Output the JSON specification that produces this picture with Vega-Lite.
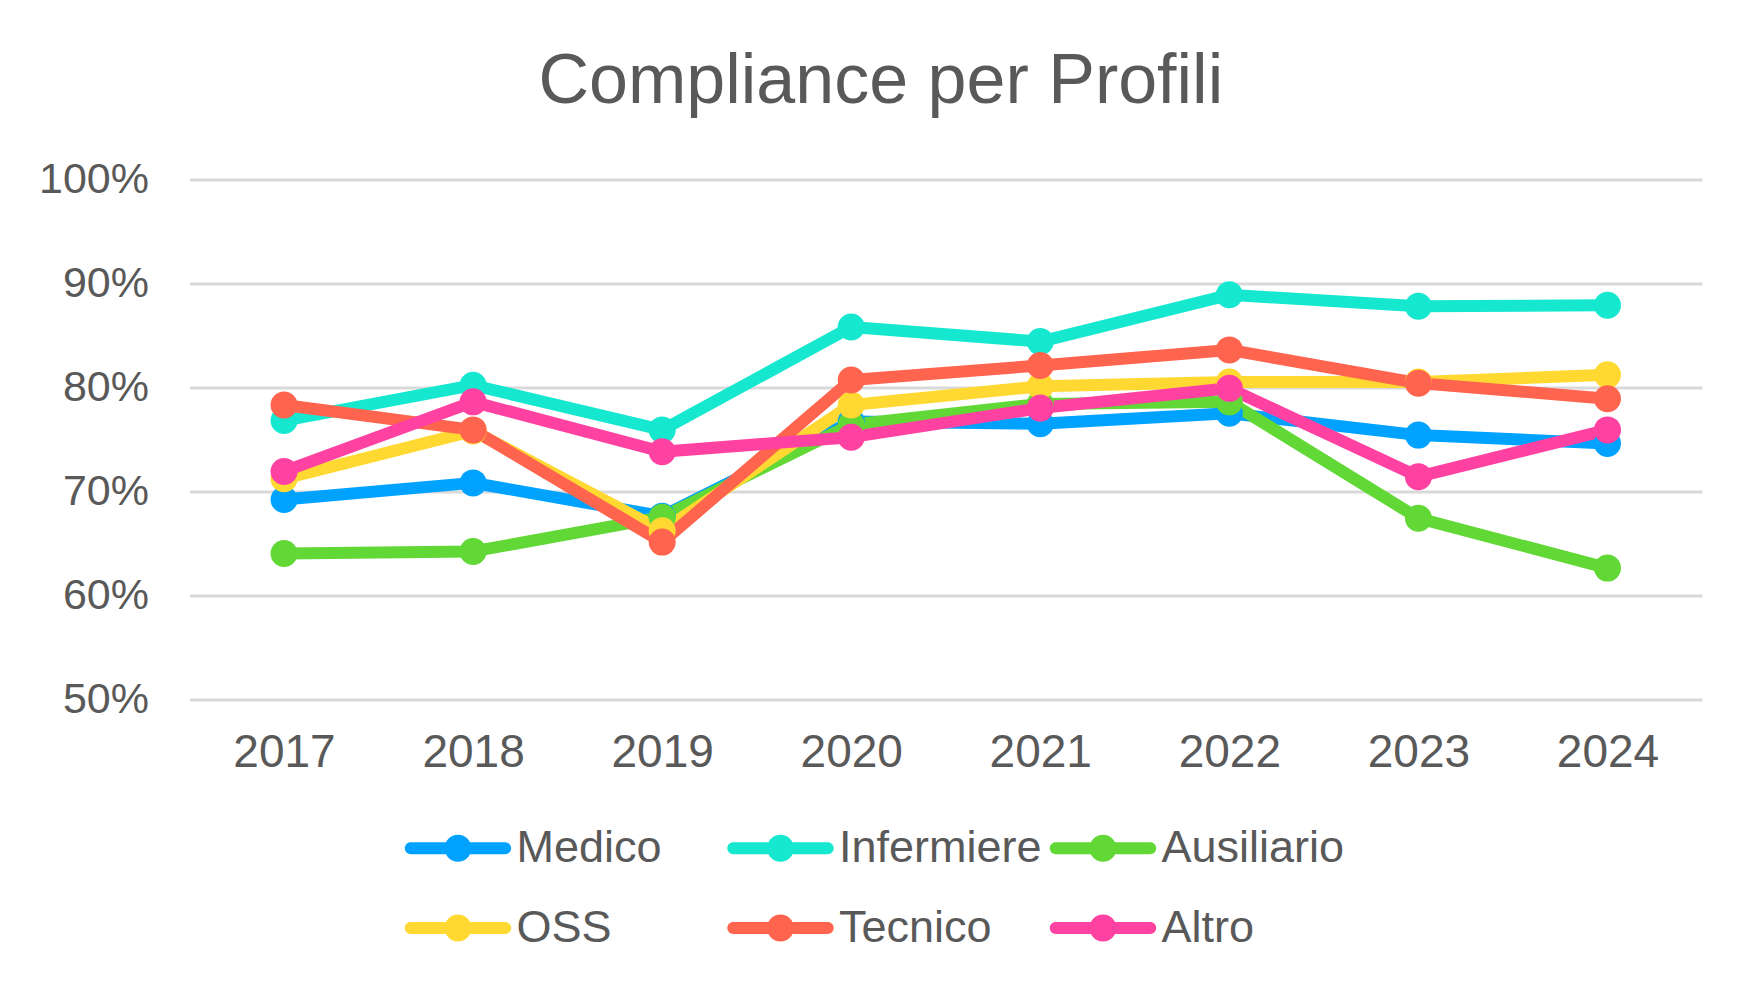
{
  "$schema": "https://vega.github.io/schema/vega-lite/v6.json",
  "width": 1512.5,
  "height": 519.5,
  "autosize": {"type": "none"},
  "padding": {"left": 189.5, "top": 179.5, "right": 46, "bottom": 264},
  "background": "white",
  "config": {"view": {"stroke": null}},
  "title": {
    "text": "Compliance per Profili",
    "anchor": "start",
    "frame": "group",
    "dx": 349,
    "fontSize": 70,
    "font": "Liberation Sans",
    "fontWeight": "normal",
    "color": "#595959",
    "baseline": "alphabetic",
    "offset": -14
  },
  "data": {
    "values": [
      {"profilo": "Medico", "anno": "2017", "valore": 0.692},
      {"profilo": "Medico", "anno": "2018", "valore": 0.708},
      {"profilo": "Medico", "anno": "2019", "valore": 0.676},
      {"profilo": "Medico", "anno": "2020", "valore": 0.767},
      {"profilo": "Medico", "anno": "2021", "valore": 0.765},
      {"profilo": "Medico", "anno": "2022", "valore": 0.775},
      {"profilo": "Medico", "anno": "2023", "valore": 0.754},
      {"profilo": "Medico", "anno": "2024", "valore": 0.746},
      {"profilo": "Infermiere", "anno": "2017", "valore": 0.768},
      {"profilo": "Infermiere", "anno": "2018", "valore": 0.802},
      {"profilo": "Infermiere", "anno": "2019", "valore": 0.759},
      {"profilo": "Infermiere", "anno": "2020", "valore": 0.858},
      {"profilo": "Infermiere", "anno": "2021", "valore": 0.844},
      {"profilo": "Infermiere", "anno": "2022", "valore": 0.889},
      {"profilo": "Infermiere", "anno": "2023", "valore": 0.878},
      {"profilo": "Infermiere", "anno": "2024", "valore": 0.879},
      {"profilo": "Ausiliario", "anno": "2017", "valore": 0.640},
      {"profilo": "Ausiliario", "anno": "2018", "valore": 0.642},
      {"profilo": "Ausiliario", "anno": "2019", "valore": 0.675},
      {"profilo": "Ausiliario", "anno": "2020", "valore": 0.764},
      {"profilo": "Ausiliario", "anno": "2021", "valore": 0.784},
      {"profilo": "Ausiliario", "anno": "2022", "valore": 0.786},
      {"profilo": "Ausiliario", "anno": "2023", "valore": 0.674},
      {"profilo": "Ausiliario", "anno": "2024", "valore": 0.626},
      {"profilo": "OSS", "anno": "2017", "valore": 0.712},
      {"profilo": "OSS", "anno": "2018", "valore": 0.758},
      {"profilo": "OSS", "anno": "2019", "valore": 0.662},
      {"profilo": "OSS", "anno": "2020", "valore": 0.783},
      {"profilo": "OSS", "anno": "2021", "valore": 0.801},
      {"profilo": "OSS", "anno": "2022", "valore": 0.805},
      {"profilo": "OSS", "anno": "2023", "valore": 0.805},
      {"profilo": "OSS", "anno": "2024", "valore": 0.812},
      {"profilo": "Tecnico", "anno": "2017", "valore": 0.783},
      {"profilo": "Tecnico", "anno": "2018", "valore": 0.759},
      {"profilo": "Tecnico", "anno": "2019", "valore": 0.651},
      {"profilo": "Tecnico", "anno": "2020", "valore": 0.807},
      {"profilo": "Tecnico", "anno": "2021", "valore": 0.821},
      {"profilo": "Tecnico", "anno": "2022", "valore": 0.836},
      {"profilo": "Tecnico", "anno": "2023", "valore": 0.804},
      {"profilo": "Tecnico", "anno": "2024", "valore": 0.789},
      {"profilo": "Altro", "anno": "2017", "valore": 0.719},
      {"profilo": "Altro", "anno": "2018", "valore": 0.786},
      {"profilo": "Altro", "anno": "2019", "valore": 0.738},
      {"profilo": "Altro", "anno": "2020", "valore": 0.752},
      {"profilo": "Altro", "anno": "2021", "valore": 0.780},
      {"profilo": "Altro", "anno": "2022", "valore": 0.799},
      {"profilo": "Altro", "anno": "2023", "valore": 0.714},
      {"profilo": "Altro", "anno": "2024", "valore": 0.759}
    ]
  },
  "encoding": {
    "x": {
      "field": "anno",
      "type": "ordinal",
      "title": null,
      "scale": {"type": "point", "padding": 0.5},
      "axis": {
        "domain": false,
        "ticks": false,
        "tickSize": 0,
        "grid": false,
        "labelAngle": 0,
        "labelFont": "Liberation Sans",
        "labelFontSize": 46,
        "labelColor": "#595959",
        "labelBaseline": "alphabetic",
        "labelPadding": 67
      }
    },
    "y": {
      "field": "valore",
      "type": "quantitative",
      "title": null,
      "scale": {"domain": [0.5, 1], "nice": false, "zero": false},
      "axis": {
        "values": [0.5, 0.6, 0.7, 0.8, 0.9, 1],
        "format": ".0%",
        "domain": false,
        "ticks": false,
        "tickSize": 0,
        "grid": true,
        "gridColor": "#D9D9D9",
        "gridWidth": 3,
        "labelFont": "Liberation Sans",
        "labelFontSize": 43,
        "labelColor": "#595959",
        "labelBaseline": "middle",
        "labelPadding": 41
      }
    },
    "color": {
      "field": "profilo",
      "type": "nominal",
      "scale": {
        "domain": ["Medico", "Infermiere", "Ausiliario", "OSS", "Tecnico", "Altro"],
        "range": ["#00A2FF", "#16E7CF", "#61D836", "#FFD932", "#FF644E", "#FF42A1"]
      },
      "legend": {
        "title": null,
        "orient": "none",
        "legendX": 246,
        "legendY": 646,
        "direction": "horizontal",
        "columns": 3,
        "gridAlign": "all",
        "columnPadding": 7.5,
        "rowPadding": 34,
        "symbolType": "M-3.5,-0.44L3.5,-0.44A0.44,0.44 0 0,1 3.5,0.44L-3.5,0.44A0.44,0.44 0 0,1 -3.5,-0.44Z M1,0A1,1 0 1,1 -1,0A1,1 0 1,1 1,0Z",
        "symbolSize": 729,
        "symbolStrokeWidth": 0,
        "labelFont": "Liberation Sans",
        "labelFontSize": 45,
        "labelColor": "#595959",
        "labelOffset": 36,
        "labelLimit": 400,
        "encode": {
          "symbols": {
            "update": {
              "fill": {"scale": "color", "field": "value"},
              "stroke": {"value": "transparent"},
              "opacity": {"value": 1}
            }
          }
        }
      }
    }
  },
  "layer": [
    {"mark": {"type": "line", "strokeWidth": 12, "strokeCap": "round", "strokeJoin": "round"}},
    {"mark": {"type": "point", "filled": true, "size": 729, "opacity": 1}}
  ]
}
